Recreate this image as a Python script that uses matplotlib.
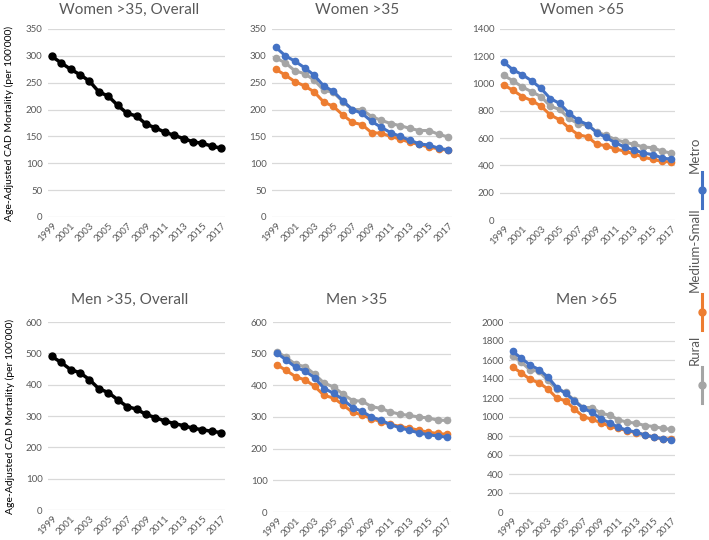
import numpy as np
import matplotlib.pyplot as plt
from matplotlib.lines import Line2D

plt.rcParams['font.family'] = ['Lato', 'DejaVu Sans']

years = list(range(1999, 2018))
tick_years = list(range(1999, 2018, 2))

# Overall
women_overall = [299, 287, 275, 265, 253, 233, 225, 208, 193, 188, 173, 166, 158, 152, 146, 140, 137, 132, 128]
men_overall = [490, 471, 448, 438, 416, 387, 375, 352, 330, 322, 305, 295, 284, 276, 269, 261, 256, 251, 247]

# Women >35
w35_metro = [316, 300, 290, 278, 264, 244, 234, 216, 200, 193, 178, 167, 157, 150, 143, 136, 134, 128, 125]
w35_medsmall = [275, 264, 252, 244, 233, 214, 206, 190, 176, 172, 157, 156, 150, 145, 139, 135, 130, 127, 124]
w35_rural = [296, 287, 272, 267, 255, 236, 232, 215, 200, 200, 187, 180, 174, 170, 165, 161, 161, 154, 149]

# Women >65
w65_metro = [1158, 1100, 1065, 1020, 965, 890, 855, 785, 730, 700, 640, 605, 565, 535, 515, 490, 480, 455, 445]
w65_medsmall = [990, 950, 905, 875, 835, 770, 735, 675, 625, 610, 555, 545, 520, 505, 485, 460, 445, 430, 425]
w65_rural = [1060, 1020, 975, 940, 905, 835, 810, 745, 705, 695, 645, 620, 590, 570, 555, 535, 530, 505, 490]

# Men >35
m35_metro = [502, 480, 457, 445, 424, 390, 375, 355, 330, 318, 300, 290, 276, 266, 258, 250, 244, 240, 236]
m35_medsmall = [465, 447, 427, 417, 397, 368, 360, 338, 315, 307, 295, 285, 277, 270, 265, 258, 252, 248, 245]
m35_rural = [506, 488, 466, 459, 435, 407, 395, 372, 352, 350, 333, 327, 316, 309, 305, 300, 297, 290, 289]

# Men >65
m65_metro = [1690, 1620, 1545, 1500, 1420, 1310, 1250, 1170, 1090, 1050, 980, 940, 890, 860, 840, 810, 790, 770, 760]
m65_medsmall = [1525, 1465, 1395, 1360, 1295, 1200, 1170, 1085, 1005, 975, 940, 905, 880, 855, 835, 810, 790, 770, 765]
m65_rural = [1645, 1575, 1495, 1480, 1385, 1295, 1260, 1175, 1100, 1100, 1040, 1020, 970, 945, 935, 910, 900, 880, 870]

colors = {'Metro': '#4472C4', 'Medium-Small': '#ED7D31', 'Rural': '#A5A5A5'}
text_gray = '#595959'
ylabel = "Age-Adjusted CAD Mortality (per 100'000)"

fig = plt.figure(figsize=(7.09, 5.40), dpi=100)

W, H = 709.0, 540.0
def make_ax(x0, x1, ytop, ybot):
    return fig.add_axes([x0 / W, 1 - ybot / H, (x1 - x0) / W, (ybot - ytop) / H])

def style(ax, ymax, step, title, tx=0.47, pad=11):
    ax.set_xlim(1998.6, 2017.4)
    ax.set_ylim(0, ymax)
    ax.set_yticks(np.arange(0, ymax + 1, step))
    ax.set_xticks(tick_years)
    ax.set_xticklabels([str(y) for y in tick_years], rotation=45, ha='right',
                       rotation_mode='anchor')
    ax.tick_params(length=0, labelsize=7, colors=text_gray, pad=4)
    ax.tick_params(axis='x', pad=3)
    for s in ax.spines.values():
        s.set_visible(False)
    ax.grid(axis='y', color='#D9D9D9', linewidth=0.9)
    ax.set_axisbelow(True)
    ax.set_title(title, fontsize=11, color=text_gray, pad=pad, x=tx)

def three(ax, metro, med, rural):
    ax.plot(years, rural, color=colors['Rural'], lw=2.2, marker='o', ms=4.5)
    ax.plot(years, med, color=colors['Medium-Small'], lw=2.2, marker='o', ms=4.5)
    ax.plot(years, metro, color=colors['Metro'], lw=2.2, marker='o', ms=4.5)

# top row
ax1 = make_ax(48, 225, 29, 217)
ax1.plot(years, women_overall, color='black', lw=2.5, marker='o', ms=5)
style(ax1, 350, 50, 'Women >35, Overall', tx=0.46)
ax1.set_ylabel(ylabel, fontsize=7.5, color='black', labelpad=8)

ax2 = make_ax(272, 452, 29, 217)
three(ax2, w35_metro, w35_medsmall, w35_rural)
style(ax2, 350, 50, 'Women >35')

ax3 = make_ax(500, 675, 29, 220)
three(ax3, w65_metro, w65_medsmall, w65_rural)
style(ax3, 1400, 200, 'Women >65')

# bottom row
ax4 = make_ax(48, 225, 322, 510)
ax4.plot(years, men_overall, color='black', lw=2.5, marker='o', ms=5)
style(ax4, 600, 100, 'Men >35, Overall', tx=0.46, pad=13)
ax4.set_ylabel(ylabel, fontsize=7.5, color='black', labelpad=8)

ax5 = make_ax(273, 451, 322, 512)
three(ax5, m35_metro, m35_medsmall, m35_rural)
style(ax5, 600, 100, 'Men >35', pad=13)

ax6 = make_ax(509, 675, 322, 512)
three(ax6, m65_metro, m65_medsmall, m65_rural)
style(ax6, 2000, 200, 'Men >65', pad=13)

# vertical legend on the right
legend_items = [('Metro', 155, 190), ('Medium-Small', 250, 312), ('Rural', 350, 385)]
lx_line = 702 / W
lx_text = 695 / W
for name, ty, my in legend_items:
    fig.add_artist(Line2D([lx_line, lx_line], [1 - (my - 18) / H, 1 - (my + 18) / H],
                          transform=fig.transFigure, color=colors[name], lw=2.2))
    fig.add_artist(Line2D([lx_line], [1 - my / H], transform=fig.transFigure,
                          color=colors[name], marker='o', ms=5))
    fig.text(lx_text, 1 - ty / H, name, rotation=90, ha='center', va='center',
             fontsize=9.5, color=text_gray)

plt.savefig('out.png', dpi=100)
